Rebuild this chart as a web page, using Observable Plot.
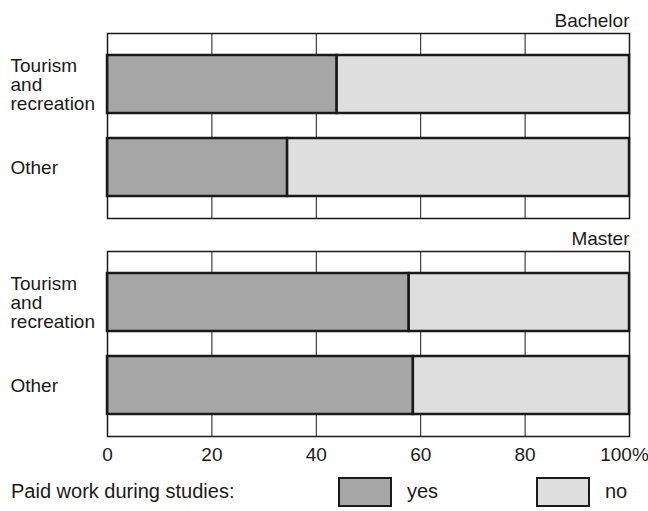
<!DOCTYPE html>
<html>
<head>
<meta charset="utf-8">
<script src="https://cdn.jsdelivr.net/npm/d3@7"></script>
<script src="https://cdn.jsdelivr.net/npm/@observablehq/plot@0.6"></script>
<style>
  html, body { margin: 0; padding: 0; background: #fff; }
  #wrap { position: relative; width: 648px; height: 511px; font-family: "Liberation Sans", Arial, sans-serif; color: #1a1a1a; }
  #legend { position: absolute; left: 0; top: 470px; width: 648px; height: 41px; }
  .lg-title { position: absolute; left: 11px; top: 11px; font-size: 20px; line-height: 20px; }
  .sw { position: absolute; top: 7px; width: 54px; height: 30px; border: 2px solid #1a1a1a; box-sizing: border-box; }
  .lg-text { position: absolute; top: 11px; font-size: 20px; line-height: 20px; }
</style>
</head>
<body>
<div id="wrap">
  <div id="chart"></div>
  <div id="legend"></div>
</div>
<script>
// ---- data ----
const levels = ["Bachelor", "Master"];
const categories = ["Tourism and recreation", "Other"];
const answers = ["yes", "no"];
const yesShare = {
  "Bachelor": [44.0, 34.5],
  "Master": [57.8, 58.6]
};
const tickValues = [0, 20, 40, 60, 80, 100];
const legendTitle = "Paid work during studies:";

// ---- styles ----
const answerColors = ["#a6a6a6", "#dedede"];

const rows = [];
for (const lvl of levels) {
  categories.forEach((cat, i) => {
    const y = yesShare[lvl][i];
    rows.push({level: lvl, category: cat, answer: "yes", value: y});
    rows.push({level: lvl, category: cat, answer: "no", value: 100 - y});
  });
}
const labelRows = levels.flatMap(l => categories.map(c => ({level: l, category: c})));

const chart = Plot.plot({
  width: 648,
  height: 470,
  marginLeft: 107,
  marginRight: 19,
  marginTop: 32,
  marginBottom: 33,
  style: {fontFamily: "Liberation Sans, Arial, sans-serif", fontSize: "19px", color: "#1a1a1a", background: "#fff"},
  x: {domain: [0, 100], label: null},
  y: {domain: categories, axis: null, paddingInner: 0.3, paddingOuter: 0.26},
  fy: {domain: levels, axis: null, paddingInner: 0.15, paddingOuter: 0},
  color: {domain: answers, range: answerColors},
  marks: [
    Plot.ruleX(tickValues.slice(1, -1), {stroke: "#1a1a1a", strokeWidth: 1}),
    Plot.barX(rows, Plot.stackX({
      x: "value", y: "category", fy: "level", fill: "answer", order: answers,
      stroke: "#1a1a1a", strokeWidth: 2.5
    })),
    Plot.frame({stroke: "#1a1a1a", strokeWidth: 1.5}),
    Plot.text(labelRows, {
      y: "category", fy: "level",
      text: d => d.category.replace(/ /g, "\n"),
      frameAnchor: "left", textAnchor: "start", dx: -97,
      lineHeight: 1.0, fontSize: 19, fill: "#1a1a1a"
    }),
    Plot.text(levels, {
      fy: d => d, text: d => d,
      frameAnchor: "top-right", textAnchor: "end", lineAnchor: "bottom",
      dy: -7, fontSize: 19, fill: "#1a1a1a"
    }),
    Plot.axisX(tickValues.slice(0, -1), {
      label: null, tickSize: 0, tickPadding: 11, fontSize: 19, fill: "#1a1a1a", tickFormat: d => String(d)
    }),
    Plot.axisX(tickValues.slice(-1), {
      label: null, tickSize: 0, tickPadding: 11, fontSize: 19, fill: "#1a1a1a", tickFormat: d => d + "%", dx: -5
    })
  ]
});
document.getElementById("chart").appendChild(chart);

// ---- legend ----
const legend = document.getElementById("legend");
const t = document.createElement("div");
t.className = "lg-title";
t.textContent = legendTitle;
legend.appendChild(t);
const swLeft = [338, 536];
answers.forEach((a, i) => {
  const s = document.createElement("div");
  s.className = "sw";
  s.style.left = swLeft[i] + "px";
  s.style.background = answerColors[i];
  legend.appendChild(s);
  const l = document.createElement("div");
  l.className = "lg-text";
  l.style.left = (swLeft[i] + 69) + "px";
  l.textContent = a;
  legend.appendChild(l);
});
</script>
</body>
</html>
